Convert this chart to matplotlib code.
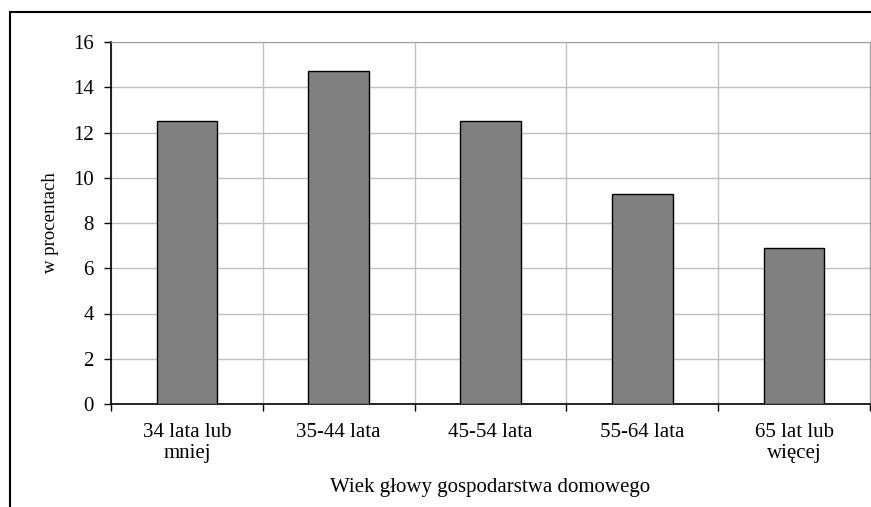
import numpy as np
import matplotlib.pyplot as plt
from matplotlib.patches import Rectangle

categories = ['34 lata lub\nmniej', '35-44 lata', '45-54 lata', '55-64 lata', '65 lat lub\nwięcej']
values = [12.5, 14.7, 12.5, 9.3, 6.9]
yticks = [0, 2, 4, 6, 8, 10, 12, 14, 16]

plt.rcParams['font.family'] = ['Liberation Serif', 'DejaVu Serif']

fig = plt.figure(figsize=(8.71, 5.07), dpi=100)
ax = fig.add_axes([111 / 871, 1 - 404 / 507, 759 / 871, 362 / 507])

x = np.arange(len(categories))
ax.bar(x, values, width=0.4, color='#808080', edgecolor='black', linewidth=1, zorder=3)

ax.set_xlim(-0.5, len(categories) - 0.5)
ax.set_ylim(0, 16)
ax.set_yticks(yticks)
ax.tick_params(axis='y', labelsize=15, direction='out', length=5, width=1, pad=7.5)

# category boundaries: ticks and vertical grid
bounds = np.arange(-0.5, len(categories) + 0.5)
ax.set_xticks(bounds)
ax.set_xticklabels([])
ax.set_xticks(x, minor=True)
ax.set_xticklabels(categories, minor=True, fontsize=15, linespacing=1.1)
ax.tick_params(axis='x', which='major', direction='out', length=5, width=1)
ax.tick_params(axis='x', which='minor', length=0, pad=14)

ax.grid(True, which='major', color='#c0c0c0', linewidth=1, zorder=0)

for side in ['top', 'right']:
    ax.spines[side].set_color('#a0a0a0')
for side in ['left', 'bottom']:
    ax.spines[side].set_color('black')
    ax.spines[side].set_linewidth(1.2)

ax.set_ylabel('w procentach', fontsize=13.5, labelpad=10)
ax.set_xlabel('Wiek głowy gospodarstwa domowego', fontsize=15, labelpad=11)

fig.patches.append(Rectangle((10 / 871, -0.2), 1.2, 1.2 - 12 / 507,
                             transform=fig.transFigure, fill=False,
                             edgecolor='black', linewidth=1.5, figure=fig))

fig.savefig('out.png', dpi=100)
